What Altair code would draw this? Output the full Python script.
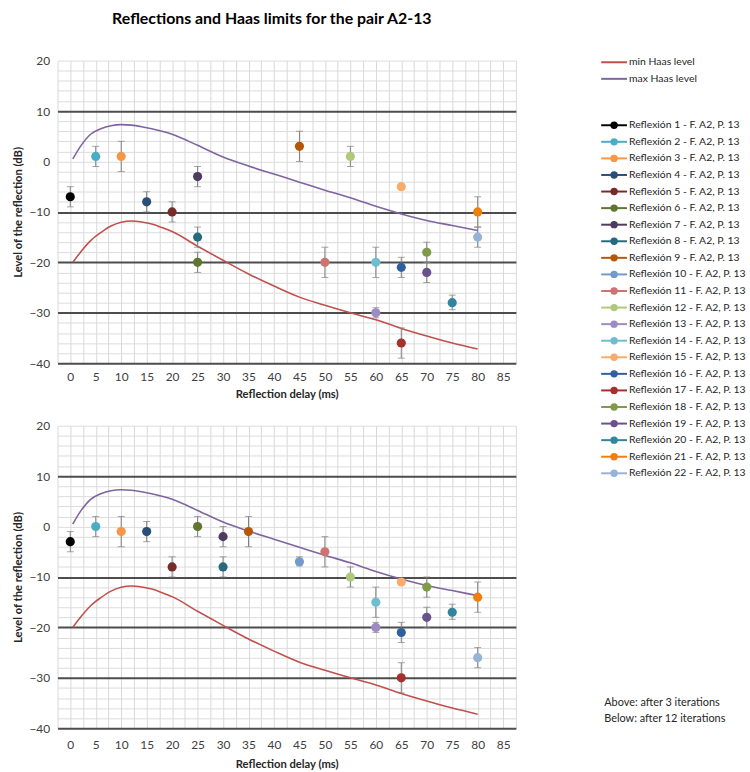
import altair as alt
import pandas as pd

FONT = "Lato"

# ---------------- data ----------------
names = [f"Reflexión {i} - F. A2, P. 13" for i in range(1, 23)]
colors = ["#000000", "#4BACC6", "#F79646", "#2C4D75", "#772C2A", "#5F7530",
          "#4D3B62", "#276A7C", "#B65708", "#729ACA", "#CD7371", "#AFC97A",
          "#9F8BC3", "#6FBDD1", "#F9AB6B", "#2F5F9E", "#A5302E", "#7F9A48",
          "#69518B", "#31859C", "#F07F09", "#95B3D7"]

# Above: after 3 iterations (reflection 10 not shown)
top_delay = [0, 5, 10, 15, 20, 25, 25, 25, 45, None, 50, 55, 60, 60, 65, 65, 65, 70, 70, 75, 80, 80]
top_level = [-7, 1, 1, -8, -10, -20, -3, -15, 3, None, -20, 1, -30, -20, -5, -21, -36, -18, -22, -28, -10, -15]
top_low = [-9, -1, -2, -10, -12, -22, -5, -17, 0, None, -23, -1, -31, -23, -5, -23, -39, -20, -24, -29.4, -13, -17]
top_high = [-5, 3, 4, -6, -8, -18, -1, -13, 6, None, -17, 3, -29, -17, -5, -19, -33, -16, -20, -26.5, -7, -13]

# Below: after 12 iterations
bot_delay = [0, 5, 10, 15, 20, 25, 30, 30, 35, 45, 50, 55, 60, 60, 65, 65, 65, 70, 70, 75, 80, 80]
bot_level = [-3, 0, -1, -1, -8, 0, -2, -8, -1, -7, -5, -10, -20, -15, -11, -21, -30, -12, -18, -17, -14, -26]
bot_low = [-5, -2, -4, -3, -10, -2, -4, -10, -4, -7.8, -8, -12, -21, -18, -11, -23, -33, -14, -20, -18.4, -17, -28]
bot_high = [-1, 2, 2, 1, -6, 2, 0, -6, 2, -6, -2, -8, -19, -12, -11, -19, -27, -10, -16, -15.4, -11, -24]

haas_delay = [0.5, 2, 4, 6, 8, 10, 12, 14, 16, 18, 20, 25, 30, 35, 40, 45, 50, 55, 60, 65, 70, 75, 80]
min_haas = [-20, -18, -15.7, -14.1, -12.8, -12.05, -11.8, -12.0, -12.4, -13.1, -13.9, -16.8,
            -19.6, -22.3, -24.7, -26.9, -28.5, -30.0, -31.4, -33.1, -34.6, -36.0, -37.2]
max_haas = [0.5, 3.0, 5.4, 6.5, 7.1, 7.3, 7.2, 6.9, 6.5, 6.0, 5.4, 3.2,
            0.9, -0.9, -2.5, -4.1, -5.7, -7.2, -8.9, -10.4, -11.7, -12.7, -13.7]
haas_names = ["min Haas level", "max Haas level"]
haas_colors = ["#C0504D", "#8064A2"]

notes = ["Above: after 3 iterations", "Below: after 12 iterations"]

# ---------------- tables ----------------
def points_df(d, l, lo, hi):
    rows = []
    for i in range(len(names)):
        if d[i] is None:
            continue
        rows.append({"name": names[i], "col": colors[i], "delay": d[i], "level": l[i],
                     "lo": lo[i], "hi": hi[i]})
    return pd.DataFrame(rows)

curves = pd.DataFrame(
    [{"curve": haas_names[0], "col": haas_colors[0], "delay": x, "level": y} for x, y in zip(haas_delay, min_haas)]
    + [{"curve": haas_names[1], "col": haas_colors[1], "delay": x, "level": y} for x, y in zip(haas_delay, max_haas)]
)

xgrid = [-2.5 + 2.5 * k for k in range(37)]
ygrid = [-40 + 2 * k for k in range(31)]


def x_enc(label_pad, title_pad):
    return alt.X("delay:Q",
                 scale=alt.Scale(domain=[-2.5, 87.5], nice=False, zero=False),
                 axis=alt.Axis(values=xgrid, tickCount=200,
                               labelExpr="datum.value % 5 == 0 ? format(datum.value, 'd') : ''",
                               labelOverlap=False,
                               grid=True, gridColor="#d9d9d9", gridWidth=1, ticks=False, domain=False,
                               labelPadding=label_pad, labelFontSize=12, labelColor="#404040",
                               title="Reflection delay (ms)", titleFontSize=11.3, titleFontWeight="bold",
                               titleColor="#262626", titlePadding=title_pad, labelFlush=False))


dark_test = "datum.value == 10 || datum.value == -10 || datum.value == -20 || datum.value == -30 || datum.value == -40"
y_axis = alt.Axis(values=ygrid, tickCount=200,
                  labelExpr="datum.value % 10 == 0 ? format(datum.value, 'd') : ''",
                  labelOverlap=False, grid=True,
                  gridColor={"condition": {"test": dark_test, "value": "#4d4d4d"}, "value": "#dcdcdc"},
                  gridWidth={"condition": {"test": dark_test, "value": 2}, "value": 1},
                  ticks=False, domain=False, labelPadding=8, labelFontSize=12, labelColor="#404040",
                  title="Level of the reflection (dB)", titleFontSize=11.3, titleFontWeight="bold",
                  titleColor="#262626", titlePadding=5, labelFlush=False)
y_scale = alt.Scale(domain=[-40, 20], nice=False, zero=False)


def panel(df, label_pad, title_pad, title=None):
    base = alt.Chart(df)
    lines = alt.Chart(curves).mark_line(strokeWidth=1.6, interpolate="monotone").encode(
        x=x_enc(label_pad, title_pad), y=alt.Y("level:Q", scale=y_scale, axis=y_axis),
        color=alt.Color("col:N", scale=None), detail="curve:N")
    bars = base.mark_rule(color="#7f7f7f", strokeWidth=1).encode(
        x="delay:Q", y=alt.Y("lo:Q", scale=y_scale), y2="hi:Q")
    cap_lo = base.mark_tick(orient="horizontal", size=7, thickness=1, color="#7f7f7f").encode(
        x="delay:Q", y=alt.Y("lo:Q", scale=y_scale))
    cap_hi = base.mark_tick(orient="horizontal", size=7, thickness=1, color="#7f7f7f").encode(
        x="delay:Q", y=alt.Y("hi:Q", scale=y_scale))
    pts = base.mark_circle(size=85, opacity=1).encode(
        x="delay:Q", y=alt.Y("level:Q", scale=y_scale),
        color=alt.Color("col:N", scale=None))
    props = dict(width=462, height=305)
    if title is not None:
        props["title"] = title
    return alt.layer(lines, bars, cap_lo, cap_hi, pts).properties(**props)


title = alt.TitleParams("Reflections and Haas limits for the pair A2-13", font=FONT, fontSize=16,
                        fontWeight="bold", color="#000000", anchor="middle", frame="group",
                        dx=-15, offset=28)

top = panel(points_df(top_delay, top_level, top_low, top_high), 8, 7, title)
bottom = panel(points_df(bot_delay, bot_level, bot_low, bot_high), 11, 9)

# ---------------- legend ----------------
GAP = 2.8
leg_rows = ([{"label": haas_names[i], "col": haas_colors[i], "row": i, "marker": False} for i in range(2)]
            + [{"label": names[i], "col": colors[i], "row": i + 1 + GAP, "marker": True} for i in range(22)])
leg = pd.DataFrame(leg_rows)
note_df = pd.DataFrame({"label": notes, "row": [38.65, 39.6]})

ly = alt.Scale(domain=[-0.1, 41.8], nice=False, zero=False, reverse=True)
lbase = alt.Chart(leg)
l_line = lbase.mark_rule(strokeWidth=2).encode(
    x=alt.value(0), x2=alt.value(26), y=alt.Y("row:Q", scale=ly, axis=None),
    color=alt.Color("col:N", scale=None))
l_pt = lbase.transform_filter("datum.marker").mark_circle(size=55, opacity=1).encode(
    x=alt.value(13), y=alt.Y("row:Q", scale=ly, axis=None), color=alt.Color("col:N", scale=None))
l_txt = lbase.mark_text(align="left", baseline="middle", fontSize=10.5, font=FONT, color="#262626").encode(
    x=alt.value(28), y=alt.Y("row:Q", scale=ly, axis=None), text="label:N")
n_txt = alt.Chart(note_df).mark_text(align="left", baseline="middle", fontSize=11, font=FONT,
                                     color="#262626").encode(
    x=alt.value(3), y=alt.Y("row:Q", scale=ly, axis=None), text="label:N")
legend = alt.layer(l_line, l_pt, l_txt, n_txt).properties(width=150, height=700)

chart = alt.hconcat(
    alt.vconcat(top, bottom, spacing=19),
    legend, spacing=85
).properties(
    padding={"left": 13, "top": 8, "right": 0, "bottom": 0}
).configure(font=FONT).configure_view(stroke=None)

chart.save("out.html", embed_options={"renderer": "svg", "actions": False})
